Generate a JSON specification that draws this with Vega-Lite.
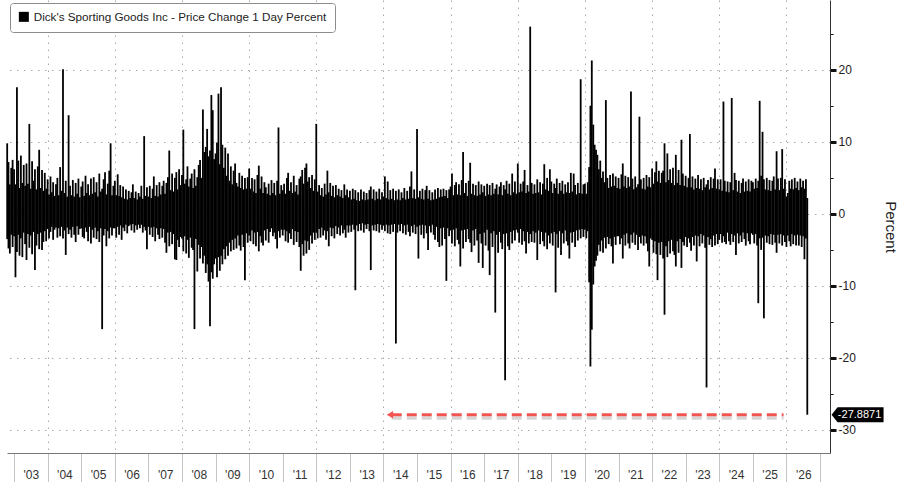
{
  "$schema": "https://vega.github.io/schema/vega-lite/v6.json",
  "width": 823,
  "height": 453,
  "autosize": {"type": "none"},
  "padding": {"left": 7, "top": 0, "right": 70, "bottom": 29},
  "background": "white",
  "config": {
    "view": {"stroke": null},
    "font": "Liberation Sans"
  },
  "layer": [
    {
      "data": {
        "values": [
          {"d":"2002-10-18","h":9.8,"l":-3.5},{"d":"2002-11-01","h":7.2,"l":-4.8},{"d":"2002-11-16","h":4.1,"l":-5.5},{"d":"2002-12-01","h":6.4,"l":-2.9},{"d":"2002-12-16","h":7.5,"l":-4.6},
          {"d":"2003-01-01","h":6.2,"l":-3.1},{"d":"2003-01-16","h":4.1,"l":-8.8},{"d":"2003-02-01","h":17.6,"l":-5.3},{"d":"2003-02-16","h":7.4,"l":-2.9},{"d":"2003-03-01","h":3.6,"l":-5.8},{"d":"2003-03-16","h":8.1,"l":-3.4},{"d":"2003-04-01","h":4.3,"l":-6.0},{"d":"2003-04-16","h":6.8,"l":-2.6},{"d":"2003-05-01","h":3.9,"l":-4.2},{"d":"2003-05-16","h":7.0,"l":-6.4},{"d":"2003-06-01","h":4.2,"l":-2.8},{"d":"2003-06-16","h":12.5,"l":-4.7},{"d":"2003-07-01","h":3.5,"l":-3.0},{"d":"2003-07-16","h":7.3,"l":-5.6},{"d":"2003-08-01","h":4.6,"l":-2.5},{"d":"2003-08-16","h":6.2,"l":-7.8},{"d":"2003-09-01","h":3.4,"l":-4.4},{"d":"2003-09-16","h":6.6,"l":-2.8},{"d":"2003-10-01","h":8.9,"l":-4.9},{"d":"2003-10-16","h":3.6,"l":-2.6},{"d":"2003-11-01","h":6.1,"l":-5.0},{"d":"2003-11-16","h":3.2,"l":-3.9},{"d":"2003-12-01","h":5.7,"l":-2.4},{"d":"2003-12-16","h":3.5,"l":-3.8},
          {"d":"2004-01-01","h":4.8,"l":-2.1},{"d":"2004-01-16","h":2.7,"l":-3.4},{"d":"2004-02-01","h":5.2,"l":-2.5},{"d":"2004-02-16","h":3.0,"l":-1.8},{"d":"2004-03-01","h":4.4,"l":-3.6},{"d":"2004-03-16","h":2.5,"l":-2.2},{"d":"2004-04-01","h":4.1,"l":-1.9},{"d":"2004-04-16","h":5.0,"l":-3.3},{"d":"2004-05-01","h":2.6,"l":-2.0},{"d":"2004-05-16","h":6.5,"l":-3.1},{"d":"2004-06-01","h":3.2,"l":-1.8},{"d":"2004-06-16","h":20.1,"l":-3.4},{"d":"2004-07-01","h":2.9,"l":-2.3},{"d":"2004-07-16","h":4.6,"l":-5.7},{"d":"2004-08-01","h":2.4,"l":-1.9},{"d":"2004-08-16","h":13.7,"l":-2.8},{"d":"2004-09-01","h":3.9,"l":-2.2},{"d":"2004-09-16","h":2.6,"l":-3.3},{"d":"2004-10-01","h":4.7,"l":-1.8},{"d":"2004-10-16","h":2.4,"l":-2.9},{"d":"2004-11-01","h":4.3,"l":-3.9},{"d":"2004-11-16","h":2.8,"l":-1.7},{"d":"2004-12-01","h":4.9,"l":-2.9},{"d":"2004-12-16","h":2.3,"l":-2.1},
          {"d":"2005-01-01","h":3.8,"l":-2.0},{"d":"2005-01-16","h":4.5,"l":-3.2},{"d":"2005-02-01","h":2.5,"l":-3.4},{"d":"2005-02-16","h":5.3,"l":-1.9},{"d":"2005-03-01","h":2.9,"l":-2.5},{"d":"2005-03-16","h":4.1,"l":-3.8},{"d":"2005-04-01","h":2.6,"l":-1.8},{"d":"2005-04-16","h":4.9,"l":-4.1},{"d":"2005-05-01","h":2.8,"l":-2.2},{"d":"2005-05-16","h":5.1,"l":-3.3},{"d":"2005-06-01","h":3.0,"l":-1.9},{"d":"2005-06-16","h":4.4,"l":-3.5},{"d":"2005-07-01","h":2.4,"l":-2.4},{"d":"2005-07-16","h":5.6,"l":-3.9},{"d":"2005-08-01","h":3.1,"l":-2.0},{"d":"2005-08-16","h":3.5,"l":-16.0},{"d":"2005-09-01","h":4.8,"l":-3.0},{"d":"2005-09-16","h":5.8,"l":-2.1},{"d":"2005-10-01","h":2.7,"l":-4.5},{"d":"2005-10-16","h":4.2,"l":-2.4},{"d":"2005-11-01","h":6.0,"l":-3.4},{"d":"2005-11-16","h":9.8,"l":-1.9},{"d":"2005-12-01","h":2.6,"l":-3.0},{"d":"2005-12-16","h":3.9,"l":-2.0},
          {"d":"2006-01-01","h":4.6,"l":-2.0},{"d":"2006-01-16","h":2.6,"l":-3.3},{"d":"2006-02-01","h":5.5,"l":-1.8},{"d":"2006-02-16","h":2.5,"l":-2.9},{"d":"2006-03-01","h":4.0,"l":-1.6},{"d":"2006-03-16","h":2.3,"l":-3.6},{"d":"2006-04-01","h":3.8,"l":-1.9},{"d":"2006-04-16","h":2.1,"l":-2.4},{"d":"2006-05-01","h":3.4,"l":-1.5},{"d":"2006-05-16","h":2.0,"l":-2.7},{"d":"2006-06-01","h":3.2,"l":-1.7},{"d":"2006-06-16","h":2.2,"l":-1.5},{"d":"2006-07-01","h":3.0,"l":-2.3},{"d":"2006-07-16","h":4.1,"l":-1.4},{"d":"2006-08-01","h":2.2,"l":-2.6},{"d":"2006-08-16","h":3.1,"l":-1.6},{"d":"2006-09-01","h":2.0,"l":-2.2},{"d":"2006-09-16","h":2.9,"l":-1.5},{"d":"2006-10-01","h":2.4,"l":-2.0},{"d":"2006-10-16","h":3.9,"l":-1.5},{"d":"2006-11-01","h":2.1,"l":-2.6},{"d":"2006-11-16","h":10.8,"l":-1.8},{"d":"2006-12-01","h":2.5,"l":-2.3},{"d":"2006-12-16","h":3.7,"l":-4.9},
          {"d":"2007-01-01","h":2.4,"l":-1.8},{"d":"2007-01-16","h":3.9,"l":-2.9},{"d":"2007-02-01","h":2.2,"l":-1.9},{"d":"2007-02-16","h":3.5,"l":-3.2},{"d":"2007-03-01","h":5.2,"l":-1.8},{"d":"2007-03-16","h":2.5,"l":-3.8},{"d":"2007-04-01","h":4.0,"l":-2.0},{"d":"2007-04-16","h":2.4,"l":-2.9},{"d":"2007-05-01","h":4.4,"l":-3.5},{"d":"2007-05-16","h":2.7,"l":-2.0},{"d":"2007-06-01","h":3.9,"l":-3.3},{"d":"2007-06-16","h":4.6,"l":-2.1},{"d":"2007-07-01","h":2.8,"l":-4.0},{"d":"2007-07-16","h":4.3,"l":-5.4},{"d":"2007-08-01","h":5.1,"l":-2.6},{"d":"2007-08-16","h":8.8,"l":-4.5},{"d":"2007-09-01","h":3.3,"l":-2.5},{"d":"2007-09-16","h":5.6,"l":-4.2},{"d":"2007-10-01","h":3.1,"l":-2.8},{"d":"2007-10-16","h":5.0,"l":-6.3},{"d":"2007-11-01","h":5.8,"l":-6.4},{"d":"2007-11-16","h":3.4,"l":-3.6},{"d":"2007-12-01","h":6.2,"l":-4.6},{"d":"2007-12-16","h":4.0,"l":-3.2},
          {"d":"2008-01-01","h":5.4,"l":-3.4},{"d":"2008-01-16","h":11.7,"l":-5.2},{"d":"2008-02-01","h":4.2,"l":-3.1},{"d":"2008-02-16","h":4.8,"l":-5.5},{"d":"2008-03-01","h":6.6,"l":-3.6},{"d":"2008-03-16","h":3.8,"l":-6.1},{"d":"2008-04-01","h":4.9,"l":-3.3},{"d":"2008-04-16","h":5.6,"l":-4.7},{"d":"2008-05-01","h":3.6,"l":-5.0},{"d":"2008-05-16","h":6.2,"l":-16.0},{"d":"2008-06-01","h":3.9,"l":-3.5},{"d":"2008-06-16","h":5.1,"l":-8.0},{"d":"2008-07-01","h":6.8,"l":-4.3},{"d":"2008-07-16","h":7.5,"l":-6.2},{"d":"2008-08-01","h":5.0,"l":-4.6},{"d":"2008-08-16","h":14.5,"l":-6.9},{"d":"2008-09-01","h":8.6,"l":-5.8},{"d":"2008-09-16","h":9.3,"l":-8.2},{"d":"2008-10-01","h":11.8,"l":-7.0},{"d":"2008-10-16","h":8.0,"l":-9.4},{"d":"2008-11-01","h":8.8,"l":-15.6},{"d":"2008-11-16","h":16.5,"l":-8.1},{"d":"2008-12-01","h":14.4,"l":-9.0},{"d":"2008-12-16","h":7.6,"l":-7.0},
          {"d":"2009-01-01","h":8.4,"l":-6.2},{"d":"2009-01-16","h":9.9,"l":-8.8},{"d":"2009-02-01","h":16.7,"l":-6.0},{"d":"2009-02-16","h":6.9,"l":-7.9},{"d":"2009-03-01","h":17.6,"l":-5.8},{"d":"2009-03-16","h":9.6,"l":-7.0},{"d":"2009-04-01","h":6.4,"l":-4.9},{"d":"2009-04-16","h":9.2,"l":-6.3},{"d":"2009-05-01","h":5.3,"l":-4.5},{"d":"2009-05-16","h":8.4,"l":-5.8},{"d":"2009-06-01","h":4.6,"l":-4.0},{"d":"2009-06-16","h":6.6,"l":-5.2},{"d":"2009-07-01","h":4.1,"l":-3.6},{"d":"2009-07-16","h":6.0,"l":-5.0},{"d":"2009-08-01","h":7.0,"l":-3.4},{"d":"2009-08-16","h":4.3,"l":-4.8},{"d":"2009-09-01","h":3.8,"l":-3.0},{"d":"2009-09-16","h":5.7,"l":-4.4},{"d":"2009-10-01","h":3.6,"l":-5.1},{"d":"2009-10-16","h":5.3,"l":-2.9},{"d":"2009-11-01","h":3.4,"l":-4.6},{"d":"2009-11-16","h":5.0,"l":-9.2},{"d":"2009-12-01","h":3.5,"l":-2.7},{"d":"2009-12-16","h":5.1,"l":-4.0},
          {"d":"2010-01-01","h":6.3,"l":-3.0},{"d":"2010-01-16","h":3.5,"l":-3.8},{"d":"2010-02-01","h":5.0,"l":-2.3},{"d":"2010-02-16","h":3.1,"l":-4.2},{"d":"2010-03-01","h":4.8,"l":-2.6},{"d":"2010-03-16","h":2.9,"l":-4.5},{"d":"2010-04-01","h":5.4,"l":-2.5},{"d":"2010-04-16","h":6.7,"l":-5.2},{"d":"2010-05-01","h":3.5,"l":-3.1},{"d":"2010-05-16","h":5.2,"l":-4.0},{"d":"2010-06-01","h":2.9,"l":-4.4},{"d":"2010-06-16","h":4.4,"l":-2.3},{"d":"2010-07-01","h":3.7,"l":-3.7},{"d":"2010-07-16","h":2.8,"l":-2.1},{"d":"2010-08-01","h":4.2,"l":-4.0},{"d":"2010-08-16","h":2.6,"l":-2.5},{"d":"2010-09-01","h":4.7,"l":-2.0},{"d":"2010-09-16","h":2.9,"l":-3.1},{"d":"2010-10-01","h":4.3,"l":-2.6},{"d":"2010-10-16","h":2.6,"l":-3.5},{"d":"2010-11-01","h":4.6,"l":-4.8},{"d":"2010-11-16","h":12.0,"l":-2.4},{"d":"2010-12-01","h":2.8,"l":-3.3},{"d":"2010-12-16","h":4.0,"l":-2.2},
          {"d":"2011-01-01","h":3.3,"l":-3.0},{"d":"2011-01-16","h":4.2,"l":-2.2},{"d":"2011-02-01","h":2.8,"l":-3.8},{"d":"2011-02-16","h":5.0,"l":-2.4},{"d":"2011-03-01","h":5.7,"l":-4.0},{"d":"2011-03-16","h":3.2,"l":-2.7},{"d":"2011-04-01","h":4.4,"l":-3.5},{"d":"2011-04-16","h":2.9,"l":-2.1},{"d":"2011-05-01","h":5.3,"l":-4.3},{"d":"2011-05-16","h":3.1,"l":-2.4},{"d":"2011-06-01","h":4.0,"l":-3.9},{"d":"2011-06-16","h":2.7,"l":-2.5},{"d":"2011-07-01","h":4.9,"l":-4.6},{"d":"2011-07-16","h":5.2,"l":-7.9},{"d":"2011-08-01","h":6.1,"l":-4.2},{"d":"2011-08-16","h":4.2,"l":-5.8},{"d":"2011-09-01","h":6.4,"l":-3.7},{"d":"2011-09-16","h":7.0,"l":-5.5},{"d":"2011-10-01","h":4.5,"l":-3.8},{"d":"2011-10-16","h":5.1,"l":-5.0},{"d":"2011-11-01","h":3.6,"l":-3.0},{"d":"2011-11-16","h":5.4,"l":-4.1},{"d":"2011-12-01","h":3.2,"l":-2.6},{"d":"2011-12-16","h":4.8,"l":-3.6},
          {"d":"2012-01-01","h":12.5,"l":-2.6},{"d":"2012-01-16","h":3.1,"l":-3.4},{"d":"2012-02-01","h":4.0,"l":-2.1},{"d":"2012-02-16","h":2.6,"l":-3.3},{"d":"2012-03-01","h":3.6,"l":-1.9},{"d":"2012-03-16","h":2.4,"l":-3.0},{"d":"2012-04-01","h":4.2,"l":-2.3},{"d":"2012-04-16","h":2.7,"l":-3.6},{"d":"2012-05-01","h":6.0,"l":-2.4},{"d":"2012-05-16","h":3.0,"l":-4.5},{"d":"2012-06-01","h":4.3,"l":-1.9},{"d":"2012-06-16","h":2.5,"l":-3.1},{"d":"2012-07-01","h":3.9,"l":-2.0},{"d":"2012-07-16","h":2.3,"l":-3.4},{"d":"2012-08-01","h":4.0,"l":-1.7},{"d":"2012-08-16","h":2.6,"l":-2.8},{"d":"2012-09-01","h":3.5,"l":-1.9},{"d":"2012-09-16","h":2.4,"l":-3.0},{"d":"2012-10-01","h":3.3,"l":-1.6},{"d":"2012-10-16","h":2.2,"l":-2.7},{"d":"2012-11-01","h":4.1,"l":-2.2},{"d":"2012-11-16","h":2.6,"l":-3.3},{"d":"2012-12-01","h":3.4,"l":-1.6},{"d":"2012-12-16","h":2.3,"l":-2.6},
          {"d":"2013-01-01","h":3.2,"l":-1.6},{"d":"2013-01-16","h":2.0,"l":-2.5},{"d":"2013-02-01","h":3.5,"l":-1.5},{"d":"2013-02-16","h":2.1,"l":-2.2},{"d":"2013-03-01","h":3.3,"l":-10.6},{"d":"2013-03-16","h":1.9,"l":-1.6},{"d":"2013-04-01","h":3.0,"l":-2.4},{"d":"2013-04-16","h":1.8,"l":-1.4},{"d":"2013-05-01","h":3.4,"l":-2.3},{"d":"2013-05-16","h":2.0,"l":-1.3},{"d":"2013-06-01","h":3.1,"l":-2.6},{"d":"2013-06-16","h":1.9,"l":-1.5},{"d":"2013-07-01","h":2.9,"l":-2.1},{"d":"2013-07-16","h":2.0,"l":-1.4},{"d":"2013-08-01","h":3.3,"l":-2.4},{"d":"2013-08-16","h":3.8,"l":-7.8},{"d":"2013-09-01","h":2.1,"l":-1.6},{"d":"2013-09-16","h":3.4,"l":-2.3},{"d":"2013-10-01","h":1.9,"l":-1.5},{"d":"2013-10-16","h":3.1,"l":-2.4},{"d":"2013-11-01","h":2.1,"l":-1.4},{"d":"2013-11-16","h":3.5,"l":-2.6},{"d":"2013-12-01","h":2.0,"l":-1.5},{"d":"2013-12-16","h":3.0,"l":-2.2},
          {"d":"2014-01-01","h":2.4,"l":-1.6},{"d":"2014-01-16","h":5.2,"l":-2.4},{"d":"2014-02-01","h":2.2,"l":-1.5},{"d":"2014-02-16","h":4.5,"l":-2.7},{"d":"2014-03-01","h":2.0,"l":-1.6},{"d":"2014-03-16","h":3.3,"l":-2.8},{"d":"2014-04-01","h":2.1,"l":-1.5},{"d":"2014-04-16","h":3.5,"l":-2.5},{"d":"2014-05-01","h":1.9,"l":-1.4},{"d":"2014-05-16","h":3.2,"l":-18.0},{"d":"2014-06-01","h":2.0,"l":-2.6},{"d":"2014-06-16","h":3.4,"l":-1.5},{"d":"2014-07-01","h":1.9,"l":-2.4},{"d":"2014-07-16","h":3.0,"l":-1.4},{"d":"2014-08-01","h":2.2,"l":-2.7},{"d":"2014-08-16","h":3.6,"l":-1.6},{"d":"2014-09-01","h":2.0,"l":-2.9},{"d":"2014-09-16","h":3.2,"l":-1.5},{"d":"2014-10-01","h":2.1,"l":-2.5},{"d":"2014-10-16","h":3.8,"l":-3.1},{"d":"2014-11-01","h":5.9,"l":-1.7},{"d":"2014-11-16","h":2.2,"l":-2.6},{"d":"2014-12-01","h":3.4,"l":-1.5},{"d":"2014-12-16","h":2.1,"l":-2.8},
          {"d":"2015-01-01","h":11.8,"l":-1.8},{"d":"2015-01-16","h":2.3,"l":-6.2},{"d":"2015-02-01","h":3.2,"l":-1.6},{"d":"2015-02-16","h":2.1,"l":-2.9},{"d":"2015-03-01","h":3.5,"l":-1.5},{"d":"2015-03-16","h":2.0,"l":-3.4},{"d":"2015-04-01","h":3.3,"l":-1.6},{"d":"2015-04-16","h":3.9,"l":-2.7},{"d":"2015-05-01","h":2.1,"l":-5.0},{"d":"2015-05-16","h":3.3,"l":-1.7},{"d":"2015-06-01","h":1.9,"l":-2.6},{"d":"2015-06-16","h":3.0,"l":-1.5},{"d":"2015-07-01","h":2.0,"l":-2.9},{"d":"2015-07-16","h":3.4,"l":-3.6},{"d":"2015-08-01","h":2.1,"l":-1.8},{"d":"2015-08-16","h":3.6,"l":-3.9},{"d":"2015-09-01","h":2.3,"l":-4.6},{"d":"2015-09-16","h":3.4,"l":-2.0},{"d":"2015-10-01","h":2.4,"l":-4.4},{"d":"2015-10-16","h":3.5,"l":-1.9},{"d":"2015-11-01","h":2.5,"l":-3.5},{"d":"2015-11-16","h":3.3,"l":-9.3},{"d":"2015-12-01","h":2.2,"l":-2.0},{"d":"2015-12-16","h":3.4,"l":-3.1},
          {"d":"2016-01-01","h":3.8,"l":-2.3},{"d":"2016-01-16","h":5.6,"l":-4.1},{"d":"2016-02-01","h":2.6,"l":-2.2},{"d":"2016-02-16","h":4.0,"l":-4.5},{"d":"2016-03-01","h":4.4,"l":-2.0},{"d":"2016-03-16","h":2.7,"l":-3.6},{"d":"2016-04-01","h":4.1,"l":-4.2},{"d":"2016-04-16","h":2.6,"l":-7.3},{"d":"2016-05-01","h":4.7,"l":-2.3},{"d":"2016-05-16","h":8.6,"l":-4.8},{"d":"2016-06-01","h":2.9,"l":-2.2},{"d":"2016-06-16","h":4.3,"l":-3.9},{"d":"2016-07-01","h":2.5,"l":-2.1},{"d":"2016-07-16","h":4.6,"l":-3.5},{"d":"2016-08-01","h":7.1,"l":-4.0},{"d":"2016-08-16","h":2.8,"l":-5.3},{"d":"2016-09-01","h":4.2,"l":-2.3},{"d":"2016-09-16","h":2.6,"l":-4.4},{"d":"2016-10-01","h":4.0,"l":-2.1},{"d":"2016-10-16","h":2.5,"l":-3.7},{"d":"2016-11-01","h":4.5,"l":-6.8},{"d":"2016-11-16","h":2.7,"l":-2.8},{"d":"2016-12-01","h":4.1,"l":-4.1},{"d":"2016-12-16","h":3.0,"l":-7.5},
          {"d":"2017-01-01","h":3.9,"l":-2.6},{"d":"2017-01-16","h":2.5,"l":-4.4},{"d":"2017-02-01","h":4.2,"l":-2.2},{"d":"2017-02-16","h":2.7,"l":-5.1},{"d":"2017-03-01","h":4.0,"l":-8.5},{"d":"2017-03-16","h":2.6,"l":-2.7},{"d":"2017-04-01","h":4.3,"l":-4.6},{"d":"2017-04-16","h":2.8,"l":-2.4},{"d":"2017-05-01","h":3.5,"l":-13.7},{"d":"2017-05-16","h":4.1,"l":-2.9},{"d":"2017-06-01","h":2.7,"l":-5.4},{"d":"2017-06-16","h":3.8,"l":-2.5},{"d":"2017-07-01","h":4.4,"l":-4.0},{"d":"2017-07-16","h":2.6,"l":-4.9},{"d":"2017-08-01","h":4.0,"l":-2.8},{"d":"2017-08-16","h":3.4,"l":-23.1},{"d":"2017-09-01","h":4.6,"l":-2.7},{"d":"2017-09-16","h":2.8,"l":-4.5},{"d":"2017-10-01","h":4.2,"l":-5.0},{"d":"2017-10-16","h":2.6,"l":-2.5},{"d":"2017-11-01","h":5.6,"l":-4.1},{"d":"2017-11-16","h":3.0,"l":-2.3},{"d":"2017-12-01","h":4.5,"l":-3.7},{"d":"2017-12-16","h":2.8,"l":-2.2},
          {"d":"2018-01-01","h":7.0,"l":-2.6},{"d":"2018-01-16","h":3.0,"l":-4.0},{"d":"2018-02-01","h":4.2,"l":-2.1},{"d":"2018-02-16","h":3.1,"l":-4.3},{"d":"2018-03-01","h":4.5,"l":-2.4},{"d":"2018-03-16","h":6.1,"l":-3.8},{"d":"2018-04-01","h":2.9,"l":-5.5},{"d":"2018-04-16","h":4.0,"l":-2.5},{"d":"2018-05-01","h":3.1,"l":-4.1},{"d":"2018-05-16","h":26.0,"l":-2.8},{"d":"2018-06-01","h":4.3,"l":-3.9},{"d":"2018-06-16","h":2.8,"l":-2.4},{"d":"2018-07-01","h":4.1,"l":-4.0},{"d":"2018-07-16","h":2.9,"l":-2.6},{"d":"2018-08-01","h":4.8,"l":-6.4},{"d":"2018-08-16","h":3.0,"l":-2.3},{"d":"2018-09-01","h":4.4,"l":-4.2},{"d":"2018-09-16","h":2.7,"l":-2.5},{"d":"2018-10-01","h":4.2,"l":-3.8},{"d":"2018-10-16","h":6.9,"l":-4.5},{"d":"2018-11-01","h":3.4,"l":-2.6},{"d":"2018-11-16","h":5.0,"l":-4.9},{"d":"2018-12-01","h":3.2,"l":-3.0},{"d":"2018-12-16","h":6.2,"l":-4.1},
          {"d":"2019-01-01","h":4.5,"l":-2.7},{"d":"2019-01-16","h":2.9,"l":-4.4},{"d":"2019-02-01","h":4.2,"l":-2.5},{"d":"2019-02-16","h":3.6,"l":-10.9},{"d":"2019-03-01","h":4.9,"l":-2.8},{"d":"2019-03-16","h":2.8,"l":-4.7},{"d":"2019-04-01","h":4.3,"l":-2.4},{"d":"2019-04-16","h":3.2,"l":-5.7},{"d":"2019-05-01","h":4.6,"l":-2.7},{"d":"2019-05-16","h":2.8,"l":-4.1},{"d":"2019-06-01","h":4.1,"l":-2.3},{"d":"2019-06-16","h":3.0,"l":-3.8},{"d":"2019-07-01","h":4.4,"l":-4.4},{"d":"2019-07-16","h":2.9,"l":-6.2},{"d":"2019-08-01","h":5.7,"l":-2.6},{"d":"2019-08-16","h":3.1,"l":-4.0},{"d":"2019-09-01","h":5.6,"l":-2.5},{"d":"2019-09-16","h":4.0,"l":-4.6},{"d":"2019-10-01","h":2.7,"l":-2.3},{"d":"2019-10-16","h":4.3,"l":-3.7},{"d":"2019-11-01","h":2.9,"l":-2.2},{"d":"2019-11-16","h":18.7,"l":-3.4},{"d":"2019-12-01","h":2.8,"l":-2.1},{"d":"2019-12-16","h":4.1,"l":-3.2},
          {"d":"2020-01-01","h":4.2,"l":-2.2},{"d":"2020-01-16","h":2.8,"l":-3.4},{"d":"2020-02-01","h":4.4,"l":-2.4},{"d":"2020-02-16","h":6.5,"l":-9.5},{"d":"2020-03-01","h":15.0,"l":-21.2},{"d":"2020-03-16","h":21.3,"l":-16.1},{"d":"2020-04-01","h":12.4,"l":-9.8},{"d":"2020-04-16","h":9.6,"l":-7.3},{"d":"2020-05-01","h":8.9,"l":-6.5},{"d":"2020-05-16","h":8.2,"l":-5.8},{"d":"2020-06-01","h":6.2,"l":-4.3},{"d":"2020-06-16","h":7.4,"l":-5.2},{"d":"2020-07-01","h":5.0,"l":-3.7},{"d":"2020-07-16","h":5.9,"l":-5.4},{"d":"2020-08-01","h":4.4,"l":-3.3},{"d":"2020-08-16","h":15.8,"l":-4.8},{"d":"2020-09-01","h":5.0,"l":-3.2},{"d":"2020-09-16","h":3.6,"l":-4.2},{"d":"2020-10-01","h":5.4,"l":-3.4},{"d":"2020-10-16","h":3.8,"l":-4.5},{"d":"2020-11-01","h":5.6,"l":-6.9},{"d":"2020-11-16","h":3.9,"l":-3.2},{"d":"2020-12-01","h":5.2,"l":-4.3},{"d":"2020-12-16","h":3.6,"l":-3.1},
          {"d":"2021-01-01","h":5.0,"l":-3.1},{"d":"2021-01-16","h":3.5,"l":-4.2},{"d":"2021-02-01","h":5.5,"l":-3.4},{"d":"2021-02-16","h":7.0,"l":-6.2},{"d":"2021-03-01","h":3.8,"l":-2.9},{"d":"2021-03-16","h":5.3,"l":-4.4},{"d":"2021-04-01","h":3.6,"l":-2.7},{"d":"2021-04-16","h":5.1,"l":-4.1},{"d":"2021-05-01","h":3.8,"l":-4.8},{"d":"2021-05-16","h":17.0,"l":-2.9},{"d":"2021-06-01","h":4.9,"l":-4.0},{"d":"2021-06-16","h":3.4,"l":-2.6},{"d":"2021-07-01","h":5.2,"l":-4.3},{"d":"2021-07-16","h":3.7,"l":-2.9},{"d":"2021-08-01","h":4.1,"l":-5.0},{"d":"2021-08-16","h":13.5,"l":-3.2},{"d":"2021-09-01","h":4.8,"l":-4.1},{"d":"2021-09-16","h":3.5,"l":-3.0},{"d":"2021-10-01","h":5.0,"l":-4.4},{"d":"2021-10-16","h":3.4,"l":-3.1},{"d":"2021-11-01","h":5.4,"l":-4.1},{"d":"2021-11-16","h":3.8,"l":-5.2},{"d":"2021-12-01","h":5.1,"l":-7.3},{"d":"2021-12-16","h":3.7,"l":-3.4},
          {"d":"2022-01-01","h":6.3,"l":-3.6},{"d":"2022-01-16","h":4.2,"l":-5.4},{"d":"2022-02-01","h":5.8,"l":-3.8},{"d":"2022-02-16","h":7.3,"l":-5.6},{"d":"2022-03-01","h":4.5,"l":-9.2},{"d":"2022-03-16","h":6.0,"l":-4.0},{"d":"2022-04-01","h":4.3,"l":-5.7},{"d":"2022-04-16","h":5.7,"l":-3.9},{"d":"2022-05-01","h":6.0,"l":-6.2},{"d":"2022-05-16","h":9.8,"l":-14.0},{"d":"2022-06-01","h":4.4,"l":-4.5},{"d":"2022-06-16","h":8.4,"l":-6.0},{"d":"2022-07-01","h":4.7,"l":-3.8},{"d":"2022-07-16","h":6.2,"l":-5.5},{"d":"2022-08-01","h":4.3,"l":-3.6},{"d":"2022-08-16","h":6.4,"l":-5.2},{"d":"2022-09-01","h":4.0,"l":-5.7},{"d":"2022-09-16","h":8.2,"l":-7.3},{"d":"2022-10-01","h":4.3,"l":-3.8},{"d":"2022-10-16","h":6.1,"l":-5.4},{"d":"2022-11-01","h":4.0,"l":-3.5},{"d":"2022-11-16","h":10.3,"l":-7.5},{"d":"2022-12-01","h":5.6,"l":-3.9},{"d":"2022-12-16","h":3.9,"l":-4.4},
          {"d":"2023-01-01","h":5.3,"l":-3.2},{"d":"2023-01-16","h":3.7,"l":-4.6},{"d":"2023-02-01","h":5.0,"l":-3.4},{"d":"2023-02-16","h":11.1,"l":-4.0},{"d":"2023-03-01","h":3.7,"l":-5.1},{"d":"2023-03-16","h":5.2,"l":-3.2},{"d":"2023-04-01","h":3.4,"l":-4.4},{"d":"2023-04-16","h":4.9,"l":-3.0},{"d":"2023-05-01","h":3.6,"l":-6.6},{"d":"2023-05-16","h":5.4,"l":-3.1},{"d":"2023-06-01","h":3.5,"l":-4.5},{"d":"2023-06-16","h":4.8,"l":-2.8},{"d":"2023-07-01","h":3.3,"l":-4.1},{"d":"2023-07-16","h":5.0,"l":-3.0},{"d":"2023-08-01","h":3.7,"l":-4.7},{"d":"2023-08-16","h":4.1,"l":-24.1},{"d":"2023-09-01","h":4.7,"l":-3.2},{"d":"2023-09-16","h":3.4,"l":-4.3},{"d":"2023-10-01","h":5.1,"l":-3.5},{"d":"2023-10-16","h":3.6,"l":-4.6},{"d":"2023-11-01","h":4.9,"l":-3.0},{"d":"2023-11-16","h":6.3,"l":-4.4},{"d":"2023-12-01","h":3.5,"l":-2.8},{"d":"2023-12-16","h":4.8,"l":-4.2},
          {"d":"2024-01-01","h":3.4,"l":-3.6},{"d":"2024-01-16","h":4.8,"l":-2.8},{"d":"2024-02-01","h":3.2,"l":-4.0},{"d":"2024-02-16","h":15.6,"l":-3.1},{"d":"2024-03-01","h":4.6,"l":-3.9},{"d":"2024-03-16","h":3.1,"l":-4.2},{"d":"2024-04-01","h":4.5,"l":-2.6},{"d":"2024-04-16","h":3.0,"l":-3.8},{"d":"2024-05-01","h":4.4,"l":-4.3},{"d":"2024-05-16","h":16.1,"l":-2.8},{"d":"2024-06-01","h":3.3,"l":-3.9},{"d":"2024-06-16","h":5.7,"l":-3.0},{"d":"2024-07-01","h":4.7,"l":-5.7},{"d":"2024-07-16","h":3.1,"l":-2.7},{"d":"2024-08-01","h":4.6,"l":-4.1},{"d":"2024-08-16","h":2.9,"l":-3.0},{"d":"2024-09-01","h":4.3,"l":-3.9},{"d":"2024-09-16","h":4.9,"l":-2.6},{"d":"2024-10-01","h":3.1,"l":-3.5},{"d":"2024-10-16","h":4.5,"l":-4.4},{"d":"2024-11-01","h":3.2,"l":-2.7},{"d":"2024-11-16","h":4.8,"l":-3.8},{"d":"2024-12-01","h":3.1,"l":-4.2},{"d":"2024-12-16","h":4.6,"l":-2.7},
          {"d":"2025-01-01","h":4.4,"l":-2.9},{"d":"2025-01-16","h":3.5,"l":-4.1},{"d":"2025-02-01","h":4.9,"l":-2.8},{"d":"2025-02-16","h":3.6,"l":-4.4},{"d":"2025-03-01","h":4.6,"l":-12.4},{"d":"2025-03-16","h":15.7,"l":-3.4},{"d":"2025-04-01","h":5.3,"l":-5.0},{"d":"2025-04-16","h":11.4,"l":-3.3},{"d":"2025-05-01","h":4.8,"l":-14.5},{"d":"2025-05-16","h":3.4,"l":-3.0},{"d":"2025-06-01","h":5.0,"l":-4.0},{"d":"2025-06-16","h":3.3,"l":-3.1},{"d":"2025-07-01","h":4.7,"l":-4.2},{"d":"2025-07-16","h":3.2,"l":-2.8},{"d":"2025-08-01","h":4.6,"l":-4.3},{"d":"2025-08-16","h":5.2,"l":-2.9},{"d":"2025-09-01","h":3.4,"l":-4.0},{"d":"2025-09-16","h":8.7,"l":-5.4},{"d":"2025-10-01","h":4.9,"l":-2.9},{"d":"2025-10-16","h":3.3,"l":-4.1},{"d":"2025-11-01","h":5.0,"l":-2.8},{"d":"2025-11-16","h":9.0,"l":-4.4},{"d":"2025-12-01","h":3.5,"l":-3.0},{"d":"2025-12-16","h":4.8,"l":-3.9},
          {"d":"2026-01-01","h":2.4,"l":-4.6},{"d":"2026-01-16","h":2.9,"l":-3.0},{"d":"2026-02-01","h":4.6,"l":-3.8},{"d":"2026-02-16","h":3.5,"l":-4.5},{"d":"2026-03-01","h":4.8,"l":-2.8},{"d":"2026-03-16","h":3.4,"l":-4.2},{"d":"2026-04-01","h":5.0,"l":-3.0},{"d":"2026-04-16","h":3.6,"l":-4.4},{"d":"2026-05-01","h":4.5,"l":-2.9},{"d":"2026-05-16","h":3.3,"l":-4.4},{"d":"2026-06-01","h":4.9,"l":-3.0},{"d":"2026-06-16","h":3.7,"l":-4.6},{"d":"2026-07-01","h":4.6,"l":-3.1},{"d":"2026-07-16","h":3.5,"l":-6.3},{"d":"2026-08-01","h":4.8,"l":-3.4},{"d":"2026-08-16","h":2.2,"l":-27.8871}
        ]
      },
      "mark": {"type": "rule", "strokeWidth": 1.8},
      "encoding": {
        "x": {
          "field": "d",
          "type": "temporal",
          "scale": {
            "type": "utc",
            "domain": [
              {"year": 2002, "month": 10, "date": 16, "utc": true},
              {"year": 2027, "month": 4, "date": 20, "utc": true}
            ]
          },
          "axis": {
            "title": null,
            "tickCount": 60,
            "values": [
              {"year": 2003, "utc": true}, {"year": 2004, "utc": true}, {"year": 2005, "utc": true},
              {"year": 2006, "utc": true}, {"year": 2007, "utc": true}, {"year": 2008, "utc": true},
              {"year": 2009, "utc": true}, {"year": 2010, "utc": true}, {"year": 2011, "utc": true},
              {"year": 2012, "utc": true}, {"year": 2013, "utc": true}, {"year": 2014, "utc": true},
              {"year": 2015, "utc": true}, {"year": 2016, "utc": true}, {"year": 2017, "utc": true},
              {"year": 2018, "utc": true}, {"year": 2019, "utc": true}, {"year": 2020, "utc": true},
              {"year": 2021, "utc": true}, {"year": 2022, "utc": true}, {"year": 2023, "utc": true},
              {"year": 2024, "utc": true}, {"year": 2025, "utc": true}, {"year": 2026, "utc": true},
              {"year": 2027, "utc": true}
            ],
            "labelExpr": "utcyear(datum.value) > 2026 ? '' : \"'\" + utcFormat(datum.value, '%y')",
            "labelOffset": 16.8,
            "labelPadding": -13,
            "labelFlush": false,
            "labelOverlap": false,
            "labelFontSize": 12,
            "labelColor": "#333333",
            "tickSize": 29,
            "tickColor": "#c4c4c4",
            "tickWidth": 1,
            "domainColor": "#777777",
            "grid": true,
            "gridColor": "#a8a8a8",
            "gridDash": [1.5, 5.5],
            "gridOpacity": {"condition": {"test": "utcyear(datum.value) % 2 == 0", "value": 1}, "value": 0}
          }
        },
        "y": {
          "field": "l",
          "type": "quantitative",
          "scale": {"domain": [-33.2, 29.7], "nice": false, "zero": false},
          "axis": {
            "orient": "right",
            "title": "Percent",
            "titleFontSize": 15,
            "titleFontWeight": "normal",
            "titleColor": "#222222",
            "titlePadding": 27,
            "tickCount": 30,
            "values": [-30, -25, -20, -15, -10, -5, 0, 5, 10, 15, 20, 25],
            "labelExpr": "datum.value % 10 == 0 ? (datum.value < 0 ? '-' + abs(datum.value) : '' + datum.value) : ''",
            "labelFontSize": 12,
            "labelColor": "#222222",
            "labelPadding": 2,
            "labelFlush": false,
            "tickSize": {"condition": {"test": "datum.value % 10 == 0", "value": 6}, "value": 3},
            "tickWidth": {"condition": {"test": "datum.value % 10 == 0", "value": 3}, "value": 1},
            "tickColor": "#111111",
            "domainColor": "#333333",
            "grid": true,
            "gridColor": "#a8a8a8",
            "gridDash": [1.5, 5.5],
            "gridOpacity": {"condition": {"test": "datum.value % 10 == 0", "value": 1}, "value": 0}
          }
        },
        "y2": {"field": "h"},
        "color": {
          "datum": "Dick's Sporting Goods Inc - Price Change 1 Day Percent",
          "scale": {"range": ["#000000"]},
          "legend": {
            "title": null,
            "orient": "top-left",
            "offset": 3,
            "fillColor": "white",
            "strokeColor": "#8c8c8c",
            "cornerRadius": 3,
            "padding": 8,
            "symbolType": "square",
            "symbolSize": 100,
            "labelFontSize": 11.7,
            "labelColor": "#222222",
            "labelLimit": 400,
            "labelOffset": 4,
            "encode": {
              "symbols": {"update": {"fill": {"value": "#000000"}, "stroke": {"value": "#000000"}, "strokeWidth": {"value": 0}}}
            }
          }
        }
      }
    },
    {
      "data": {"values": [{"a": "2014-04-01", "b": "2025-12-01", "v": -28.35}]},
      "mark": {"type": "rule", "color": "#8a8a8a", "opacity": 0.35, "strokeWidth": 3.5, "strokeDash": [10, 5]},
      "encoding": {
        "x": {"field": "a", "type": "temporal"},
        "x2": {"field": "b"},
        "y": {"field": "v", "type": "quantitative"}
      }
    },
    {
      "data": {"values": [{"a": "2014-04-01", "b": "2025-12-01", "v": -27.9}]},
      "mark": {"type": "rule", "color": "#f2554f", "strokeWidth": 3, "strokeDash": [10, 5]},
      "encoding": {
        "x": {"field": "a", "type": "temporal"},
        "x2": {"field": "b"},
        "y": {"field": "v", "type": "quantitative"}
      }
    },
    {
      "data": {"values": [{"a": "2014-03-12", "v": -27.9}]},
      "mark": {"type": "point", "shape": "triangle-left", "filled": true, "color": "#f2554f", "opacity": 1, "size": 55},
      "encoding": {
        "x": {"field": "a", "type": "temporal"},
        "y": {"field": "v", "type": "quantitative"}
      }
    },
    {
      "data": {"values": [{"t": "2028-02-14", "v": -27.8871, "s": "-27.8871"}]},
      "layer": [
        {
          "mark": {
            "type": "point",
            "shape": "M-1,0L-0.77,-0.29L1,-0.29L1,0.29L-0.77,0.29Z",
            "filled": true,
            "color": "#000000",
            "opacity": 1,
            "size": 2704,
            "clip": false
          },
          "encoding": {
            "x": {"field": "t", "type": "temporal"},
            "y": {"field": "v", "type": "quantitative"}
          }
        },
        {
          "mark": {"type": "text", "color": "white", "fontSize": 11, "align": "center", "baseline": "middle", "dx": 2, "clip": false},
          "encoding": {
            "x": {"field": "t", "type": "temporal"},
            "y": {"field": "v", "type": "quantitative"},
            "text": {"field": "s"}
          }
        }
      ]
    }
  ]
}
